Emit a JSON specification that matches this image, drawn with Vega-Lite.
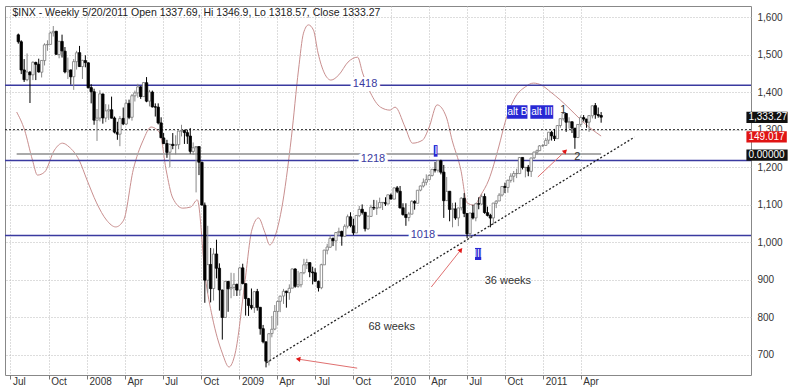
{
  "$schema": "https://vega.github.io/schema/vega-lite/v6.json",
  "width": 746,
  "height": 369,
  "autosize": "none",
  "padding": {"left": 5, "top": 6, "right": 49, "bottom": 15},
  "background": "white",
  "config": {"view": {"stroke": "#888", "strokeWidth": 1}, "font": "Liberation Sans"},
  "resolve": {"axis": {"x": "independent", "y": "independent"}},
  "datasets": {
    "ohlc": [
      {"d":"2007-07-20","o":1552.5,"h":1555.9,"l":1529,"c":1534.1},
      {"d":"2007-07-27","o":1534,"h":1538,"l":1448,"c":1458.9},
      {"d":"2007-08-03","o":1459,"h":1488,"l":1427,"c":1433.1},
      {"d":"2007-08-10","o":1433,"h":1503,"l":1429,"c":1453.6},
      {"d":"2007-08-17","o":1453,"h":1456,"l":1371,"c":1445.9},
      {"d":"2007-08-24","o":1446,"h":1482,"l":1432,"c":1479.4},
      {"d":"2007-08-31","o":1479,"h":1481,"l":1432,"c":1474},
      {"d":"2007-09-07","o":1474,"h":1489,"l":1452,"c":1453.6},
      {"d":"2007-09-14","o":1453,"h":1485,"l":1439,"c":1484.3},
      {"d":"2007-09-21","o":1484,"h":1530,"l":1471,"c":1525.8},
      {"d":"2007-09-28","o":1526,"h":1538,"l":1510,"c":1526.8},
      {"d":"2007-10-05","o":1527,"h":1561,"l":1527,"c":1557.6},
      {"d":"2007-10-12","o":1558,"h":1576,"l":1548,"c":1561.8},
      {"d":"2007-10-19","o":1562,"h":1563,"l":1500,"c":1500.6},
      {"d":"2007-10-26","o":1500,"h":1535,"l":1490,"c":1535.3},
      {"d":"2007-11-02","o":1535,"h":1553,"l":1492,"c":1509.7},
      {"d":"2007-11-09","o":1509,"h":1520,"l":1450,"c":1453.7},
      {"d":"2007-11-16","o":1454,"h":1492,"l":1435,"c":1458.7},
      {"d":"2007-11-23","o":1459,"h":1460,"l":1420,"c":1440.7},
      {"d":"2007-11-30","o":1441,"h":1488,"l":1406,"c":1481.1},
      {"d":"2007-12-07","o":1481,"h":1510,"l":1460,"c":1504.7},
      {"d":"2007-12-14","o":1505,"h":1523,"l":1467,"c":1468},
      {"d":"2007-12-21","o":1468,"h":1486,"l":1435,"c":1484.5},
      {"d":"2007-12-28","o":1484,"h":1498,"l":1466,"c":1478.5},
      {"d":"2008-01-04","o":1478,"h":1479,"l":1410,"c":1411.6},
      {"d":"2008-01-11","o":1412,"h":1421,"l":1370,"c":1401},
      {"d":"2008-01-18","o":1401,"h":1409,"l":1313,"c":1325.2},
      {"d":"2008-01-25","o":1325,"h":1355,"l":1270,"c":1330.6},
      {"d":"2008-02-01","o":1331,"h":1405,"l":1322,"c":1395.4},
      {"d":"2008-02-08","o":1395,"h":1396,"l":1316,"c":1331.3},
      {"d":"2008-02-15","o":1331,"h":1368,"l":1320,"c":1350},
      {"d":"2008-02-22","o":1350,"h":1367,"l":1326,"c":1353.1},
      {"d":"2008-02-29","o":1353,"h":1388,"l":1330,"c":1330.6},
      {"d":"2008-03-07","o":1331,"h":1335,"l":1290,"c":1293.4},
      {"d":"2008-03-14","o":1293,"h":1321,"l":1273,"c":1288.1},
      {"d":"2008-03-20","o":1288,"h":1336,"l":1256,"c":1329.5},
      {"d":"2008-03-28","o":1330,"h":1359,"l":1312,"c":1315.2},
      {"d":"2008-04-04","o":1315,"h":1380,"l":1312,"c":1370.4},
      {"d":"2008-04-11","o":1370,"h":1380,"l":1328,"c":1332.8},
      {"d":"2008-04-18","o":1333,"h":1395,"l":1324,"c":1390.3},
      {"d":"2008-04-25","o":1390,"h":1404,"l":1375,"c":1397.8},
      {"d":"2008-05-02","o":1398,"h":1422,"l":1385,"c":1413.9},
      {"d":"2008-05-09","o":1414,"h":1416,"l":1382,"c":1388.3},
      {"d":"2008-05-16","o":1388,"h":1426,"l":1388,"c":1425.4},
      {"d":"2008-05-23","o":1425,"h":1440,"l":1373,"c":1375.9},
      {"d":"2008-05-30","o":1376,"h":1406,"l":1362,"c":1400.4},
      {"d":"2008-06-06","o":1400,"h":1404,"l":1359,"c":1360.7},
      {"d":"2008-06-13","o":1361,"h":1370,"l":1335,"c":1360},
      {"d":"2008-06-20","o":1360,"h":1370,"l":1314,"c":1317.9},
      {"d":"2008-06-27","o":1318,"h":1333,"l":1278,"c":1278.4},
      {"d":"2008-07-03","o":1278,"h":1291,"l":1262,"c":1262.9},
      {"d":"2008-07-11","o":1263,"h":1273,"l":1225,"c":1239.5},
      {"d":"2008-07-18","o":1240,"h":1263,"l":1200,"c":1260.7},
      {"d":"2008-07-25","o":1261,"h":1291,"l":1248,"c":1257.8},
      {"d":"2008-08-01","o":1258,"h":1285,"l":1234,"c":1260.3},
      {"d":"2008-08-08","o":1260,"h":1297,"l":1248,"c":1296.3},
      {"d":"2008-08-15","o":1296,"h":1313,"l":1282,"c":1298.2},
      {"d":"2008-08-22","o":1298,"h":1300,"l":1262,"c":1292.2},
      {"d":"2008-08-29","o":1292,"h":1300,"l":1262,"c":1282.8},
      {"d":"2008-09-05","o":1283,"h":1304,"l":1236,"c":1242.3},
      {"d":"2008-09-12","o":1242,"h":1266,"l":1233,"c":1251.7},
      {"d":"2008-09-19","o":1252,"h":1256,"l":1133,"c":1255.1},
      {"d":"2008-09-26","o":1255,"h":1255,"l":1179,"c":1213.3},
      {"d":"2008-10-03","o":1213,"h":1215,"l":1099,"c":1099.2},
      {"d":"2008-10-10","o":1099,"h":1106,"l":839,"c":899.2},
      {"d":"2008-10-17","o":899,"h":1044,"l":866,"c":940.6},
      {"d":"2008-10-24","o":941,"h":985,"l":840,"c":876.8},
      {"d":"2008-10-31","o":877,"h":984,"l":845,"c":968.8},
      {"d":"2008-11-07","o":969,"h":1007,"l":904,"c":931},
      {"d":"2008-11-14","o":931,"h":944,"l":818,"c":873.3},
      {"d":"2008-11-21","o":873,"h":874,"l":741,"c":800},
      {"d":"2008-11-28","o":800,"h":897,"l":799,"c":896.2},
      {"d":"2008-12-05","o":896,"h":897,"l":815,"c":876.1},
      {"d":"2008-12-12","o":876,"h":919,"l":851,"c":879.7},
      {"d":"2008-12-19","o":880,"h":918,"l":857,"c":887.9},
      {"d":"2008-12-26","o":888,"h":890,"l":857,"c":872.8},
      {"d":"2009-01-02","o":873,"h":935,"l":858,"c":931.8},
      {"d":"2009-01-09","o":932,"h":943,"l":888,"c":890.4},
      {"d":"2009-01-16","o":890,"h":890,"l":805,"c":850.1},
      {"d":"2009-01-23","o":850,"h":852,"l":804,"c":832},
      {"d":"2009-01-30","o":832,"h":877,"l":821,"c":825.9},
      {"d":"2009-02-06","o":826,"h":870,"l":812,"c":868.6},
      {"d":"2009-02-13","o":869,"h":876,"l":818,"c":826.8},
      {"d":"2009-02-20","o":827,"h":827,"l":754,"c":770.1},
      {"d":"2009-02-27","o":770,"h":780,"l":731,"c":735.1},
      {"d":"2009-03-06","o":735,"h":736,"l":667,"c":683.4},
      {"d":"2009-03-13","o":683,"h":758,"l":672,"c":756.6},
      {"d":"2009-03-20","o":757,"h":804,"l":747,"c":768.5},
      {"d":"2009-03-27","o":769,"h":833,"l":766,"c":815.9},
      {"d":"2009-04-03","o":816,"h":845,"l":779,"c":842.5},
      {"d":"2009-04-09","o":843,"h":858,"l":814,"c":856.6},
      {"d":"2009-04-17","o":857,"h":876,"l":836,"c":869.6},
      {"d":"2009-04-24","o":870,"h":871,"l":826,"c":866.2},
      {"d":"2009-05-01","o":866,"h":888,"l":847,"c":877.5},
      {"d":"2009-05-08","o":878,"h":930,"l":878,"c":929.2},
      {"d":"2009-05-15","o":929,"h":931,"l":879,"c":882.9},
      {"d":"2009-05-22","o":883,"h":924,"l":879,"c":887},
      {"d":"2009-05-29","o":887,"h":920,"l":880,"c":919.1},
      {"d":"2009-06-05","o":919,"h":956,"l":915,"c":940.1},
      {"d":"2009-06-12","o":940,"h":956,"l":929,"c":946.2},
      {"d":"2009-06-19","o":946,"h":946,"l":907,"c":921.2},
      {"d":"2009-06-26","o":921,"h":935,"l":888,"c":918.9},
      {"d":"2009-07-02","o":919,"h":931,"l":896,"c":896.4},
      {"d":"2009-07-10","o":896,"h":898,"l":869,"c":879.1},
      {"d":"2009-07-17","o":879,"h":943,"l":875,"c":940.4},
      {"d":"2009-07-24","o":940,"h":980,"l":940,"c":979.3},
      {"d":"2009-07-31","o":979,"h":996,"l":968,"c":987.5},
      {"d":"2009-08-07","o":987,"h":1018,"l":985,"c":1010.5},
      {"d":"2009-08-14","o":1010,"h":1013,"l":990,"c":1004.1},
      {"d":"2009-08-21","o":1004,"h":1027,"l":978,"c":1026.1},
      {"d":"2009-08-28","o":1026,"h":1039,"l":1016,"c":1028.9},
      {"d":"2009-09-04","o":1029,"h":1031,"l":991,"c":1016.4},
      {"d":"2009-09-11","o":1016,"h":1048,"l":1016,"c":1042.7},
      {"d":"2009-09-18","o":1043,"h":1074,"l":1037,"c":1068.3},
      {"d":"2009-09-25","o":1068,"h":1080,"l":1040,"c":1044.4},
      {"d":"2009-10-02","o":1044,"h":1063,"l":1019,"c":1025.2},
      {"d":"2009-10-09","o":1025,"h":1073,"l":1025,"c":1071.5},
      {"d":"2009-10-16","o":1071,"h":1097,"l":1067,"c":1087.7},
      {"d":"2009-10-23","o":1088,"h":1101,"l":1074,"c":1079.6},
      {"d":"2009-10-30","o":1080,"h":1080,"l":1029,"c":1036.2},
      {"d":"2009-11-06","o":1036,"h":1072,"l":1033,"c":1069.3},
      {"d":"2009-11-13","o":1069,"h":1100,"l":1069,"c":1093.5},
      {"d":"2009-11-20","o":1093,"h":1113,"l":1086,"c":1091.4},
      {"d":"2009-11-27","o":1091,"h":1112,"l":1073,"c":1091.5},
      {"d":"2009-12-04","o":1092,"h":1119,"l":1092,"c":1106},
      {"d":"2009-12-11","o":1106,"h":1107,"l":1086,"c":1106.4},
      {"d":"2009-12-18","o":1106,"h":1120,"l":1097,"c":1102.5},
      {"d":"2009-12-24","o":1102,"h":1127,"l":1102,"c":1126.5},
      {"d":"2009-12-31","o":1126,"h":1130,"l":1115,"c":1115.1},
      {"d":"2010-01-08","o":1115,"h":1146,"l":1115,"c":1145},
      {"d":"2010-01-15","o":1145,"h":1150,"l":1131,"c":1136},
      {"d":"2010-01-22","o":1136,"h":1150,"l":1090,"c":1091.8},
      {"d":"2010-01-29","o":1092,"h":1104,"l":1071,"c":1073.9},
      {"d":"2010-02-05","o":1074,"h":1104,"l":1044,"c":1066.2},
      {"d":"2010-02-12","o":1066,"h":1081,"l":1056,"c":1075.5},
      {"d":"2010-02-19","o":1075,"h":1112,"l":1075,"c":1109.2},
      {"d":"2010-02-26","o":1109,"h":1112,"l":1087,"c":1104.5},
      {"d":"2010-03-05","o":1104,"h":1139,"l":1104,"c":1138.7},
      {"d":"2010-03-12","o":1139,"h":1151,"l":1136,"c":1150},
      {"d":"2010-03-19","o":1150,"h":1170,"l":1146,"c":1159.9},
      {"d":"2010-03-26","o":1160,"h":1181,"l":1152,"c":1166.6},
      {"d":"2010-04-02","o":1167,"h":1181,"l":1167,"c":1178.1},
      {"d":"2010-04-09","o":1178,"h":1194,"l":1175,"c":1194.4},
      {"d":"2010-04-16","o":1194,"h":1214,"l":1186,"c":1192.1},
      {"d":"2010-04-23","o":1192,"h":1218,"l":1186,"c":1217.3},
      {"d":"2010-04-30","o":1217,"h":1220,"l":1181,"c":1186.7},
      {"d":"2010-05-07","o":1187,"h":1206,"l":1065,"c":1110.9},
      {"d":"2010-05-14","o":1111,"h":1174,"l":1111,"c":1135.7},
      {"d":"2010-05-21","o":1136,"h":1136,"l":1056,"c":1087.7},
      {"d":"2010-05-28","o":1088,"h":1105,"l":1040,"c":1089.4},
      {"d":"2010-06-04","o":1089,"h":1106,"l":1060,"c":1064.9},
      {"d":"2010-06-11","o":1065,"h":1092,"l":1043,"c":1091.6},
      {"d":"2010-06-18","o":1092,"h":1120,"l":1085,"c":1117.5},
      {"d":"2010-06-25","o":1117,"h":1131,"l":1067,"c":1076.8},
      {"d":"2010-07-02","o":1077,"h":1077,"l":1011,"c":1022.6},
      {"d":"2010-07-09","o":1023,"h":1079,"l":1011,"c":1078},
      {"d":"2010-07-16","o":1078,"h":1100,"l":1061,"c":1064.9},
      {"d":"2010-07-23","o":1065,"h":1105,"l":1056,"c":1102.7},
      {"d":"2010-07-30","o":1103,"h":1120,"l":1088,"c":1101.6},
      {"d":"2010-08-06","o":1102,"h":1128,"l":1100,"c":1121.6},
      {"d":"2010-08-13","o":1122,"h":1130,"l":1076,"c":1079.3},
      {"d":"2010-08-20","o":1079,"h":1095,"l":1069,"c":1071.7},
      {"d":"2010-08-27","o":1072,"h":1076,"l":1040,"c":1064.6},
      {"d":"2010-09-03","o":1065,"h":1105,"l":1047,"c":1104.5},
      {"d":"2010-09-10","o":1104,"h":1112,"l":1091,"c":1109.6},
      {"d":"2010-09-17","o":1110,"h":1131,"l":1110,"c":1125.6},
      {"d":"2010-09-24","o":1126,"h":1149,"l":1122,"c":1148.7},
      {"d":"2010-10-01","o":1149,"h":1159,"l":1131,"c":1146.2},
      {"d":"2010-10-08","o":1146,"h":1167,"l":1132,"c":1165.2},
      {"d":"2010-10-15","o":1165,"h":1184,"l":1159,"c":1176.2},
      {"d":"2010-10-22","o":1176,"h":1190,"l":1160,"c":1183.1},
      {"d":"2010-10-29","o":1183,"h":1196,"l":1171,"c":1183.3},
      {"d":"2010-11-05","o":1183,"h":1227,"l":1183,"c":1225.9},
      {"d":"2010-11-12","o":1226,"h":1226,"l":1194,"c":1199.2},
      {"d":"2010-11-19","o":1199,"h":1200,"l":1173,"c":1199.7},
      {"d":"2010-11-26","o":1200,"h":1206,"l":1176,"c":1189.4},
      {"d":"2010-12-03","o":1189,"h":1225,"l":1174,"c":1224.7},
      {"d":"2010-12-10","o":1225,"h":1241,"l":1222,"c":1240.4},
      {"d":"2010-12-17","o":1240,"h":1247,"l":1234,"c":1243.9},
      {"d":"2010-12-23","o":1244,"h":1259,"l":1243,"c":1256.8},
      {"d":"2010-12-31","o":1257,"h":1262,"l":1254,"c":1257.6},
      {"d":"2011-01-07","o":1258,"h":1278,"l":1257,"c":1271.5},
      {"d":"2011-01-14","o":1272,"h":1294,"l":1262,"c":1293.2},
      {"d":"2011-01-21","o":1293,"h":1297,"l":1271,"c":1283.4},
      {"d":"2011-01-28","o":1283,"h":1302,"l":1270,"c":1276.3},
      {"d":"2011-02-04","o":1276,"h":1312,"l":1276,"c":1310.9},
      {"d":"2011-02-11","o":1311,"h":1330,"l":1305,"c":1329.2},
      {"d":"2011-02-18","o":1329,"h":1344,"l":1324,"c":1343},
      {"d":"2011-02-25","o":1343,"h":1344,"l":1294,"c":1319.9},
      {"d":"2011-03-04","o":1320,"h":1333,"l":1303,"c":1321.2},
      {"d":"2011-03-11","o":1321,"h":1322,"l":1291,"c":1304.3},
      {"d":"2011-03-18","o":1304,"h":1304,"l":1249,"c":1279.2},
      {"d":"2011-03-25","o":1279,"h":1314,"l":1279,"c":1313.8},
      {"d":"2011-04-01","o":1314,"h":1338,"l":1308,"c":1332.4},
      {"d":"2011-04-08","o":1332,"h":1339,"l":1322,"c":1328.2},
      {"d":"2011-04-15","o":1328,"h":1329,"l":1305,"c":1319.7},
      {"d":"2011-04-21","o":1320,"h":1339,"l":1294,"c":1337.4},
      {"d":"2011-04-29","o":1337,"h":1364,"l":1330,"c":1363.6},
      {"d":"2011-05-06","o":1364,"h":1371,"l":1329,"c":1340.2},
      {"d":"2011-05-13","o":1340,"h":1359,"l":1332,"c":1337.8},
      {"d":"2011-05-20","o":1337.69,"h":1346.9,"l":1318.57,"c":1333.27}
    ],
    "osc": [
      {"d":"2007-07-16","v":1347},{"d":"2007-08-04","v":1299},{"d":"2007-08-23","v":1219},{"d":"2007-09-04","v":1179},
      {"d":"2007-09-21","v":1187},{"d":"2007-10-15","v":1246},{"d":"2007-11-03","v":1264},{"d":"2007-11-19","v":1254},
      {"d":"2007-12-13","v":1219},{"d":"2008-01-01","v":1166},{"d":"2008-01-24","v":1105},{"d":"2008-02-17","v":1059},
      {"d":"2008-03-10","v":1041},{"d":"2008-03-29","v":1059},{"d":"2008-04-21","v":1193},{"d":"2008-05-15","v":1272},
      {"d":"2008-06-03","v":1307},{"d":"2008-06-24","v":1291},{"d":"2008-07-09","v":1193},{"d":"2008-07-25","v":1118},
      {"d":"2008-08-18","v":1091},{"d":"2008-09-06","v":1094},{"d":"2008-09-22","v":1113},{"d":"2008-10-11","v":908},
      {"d":"2008-10-28","v":801},{"d":"2008-11-21","v":705},{"d":"2008-12-07","v":668},{"d":"2008-12-22","v":705},
      {"d":"2009-01-14","v":892},{"d":"2009-01-31","v":1033},{"d":"2009-02-16","v":1065},{"d":"2009-03-03","v":1027},
      {"d":"2009-03-15","v":993},{"d":"2009-03-27","v":1014},{"d":"2009-04-12","v":1086},{"d":"2009-05-06","v":1280},
      {"d":"2009-05-23","v":1459},{"d":"2009-06-04","v":1557},{"d":"2009-06-16","v":1579},{"d":"2009-06-28","v":1565},
      {"d":"2009-07-09","v":1504},{"d":"2009-07-24","v":1451},{"d":"2009-08-09","v":1432},{"d":"2009-08-28","v":1446},
      {"d":"2009-09-19","v":1480},{"d":"2009-10-12","v":1493},{"d":"2009-10-24","v":1451},{"d":"2009-11-12","v":1398},
      {"d":"2009-12-06","v":1360},{"d":"2009-12-29","v":1352},{"d":"2010-01-10","v":1360},{"d":"2010-02-03","v":1307},
      {"d":"2010-02-21","v":1264},{"d":"2010-03-17","v":1272},{"d":"2010-04-02","v":1307},{"d":"2010-04-21","v":1366},
      {"d":"2010-05-13","v":1334},{"d":"2010-05-27","v":1272},{"d":"2010-06-17","v":1193},{"d":"2010-07-02","v":1105},
      {"d":"2010-07-19","v":1099},{"d":"2010-08-04","v":1126},{"d":"2010-08-23","v":1166},{"d":"2010-09-16","v":1254},
      {"d":"2010-10-03","v":1326},{"d":"2010-10-26","v":1387},{"d":"2010-11-19","v":1414},{"d":"2010-12-08","v":1424},
      {"d":"2010-12-27","v":1419},{"d":"2011-01-19","v":1400},{"d":"2011-02-11","v":1379},{"d":"2011-03-16","v":1344},
      {"d":"2011-04-09","v":1318},{"d":"2011-05-20","v":1283}
    ],
    "levels": [
      {"d":"2009-10-30","v":1418,"t":"1418"},
      {"d":"2009-11-18","v":1218,"t":"1218"},
      {"d":"2010-03-18","v":1018,"t":"1018"}
    ],
    "boxes": [
      {"d1":"2010-10-06","d2":"2010-11-24","v1":1329,"v2":1365,"k":"tag"},
      {"d1":"2010-12-01","d2":"2011-01-25","v1":1329,"v2":1365,"k":"tag"},
      {"d1":"2010-04-13","d2":"2010-04-22","v1":1228,"v2":1259,"k":"tag"},
      {"d1":"2010-07-21","d2":"2010-08-05","v1":953,"v2":985,"k":"tag"},
      {"d1":"2012-05-03","d2":"2012-08-10","v1":1318,"v2":1348,"k":"price"},
      {"d1":"2012-05-03","d2":"2012-08-08","v1":1266,"v2":1296,"k":"osc"},
      {"d1":"2012-05-03","d2":"2012-08-10","v1":1217,"v2":1247,"k":"price"}
    ],
    "tagtext": [
      {"d":"2010-10-31","v":1347,"t":"alt B"},
      {"d":"2010-12-29","v":1347,"t":"alt III"},
      {"d":"2010-04-18","v":1243,"t":"I"},
      {"d":"2010-07-29","v":969,"t":"III"}
    ],
    "axistext": [
      {"d":"2012-05-03","v":1333,"t":"1,333.27"},
      {"d":"2012-05-03","v":1281,"t":"149.017"},
      {"d":"2012-05-03","v":1232,"t":"0.00000"}
    ],
    "notes": [
      {"d":"2011-02-18","v":1352,"t":"1"},
      {"d":"2011-03-24","v":1227,"t":"2"},
      {"d":"2010-01-02","v":775,"t":"68 weeks"},
      {"d":"2010-10-08","v":897,"t":"36 weeks"}
    ],
    "title": [
      {"d":"2007-07-01","v":1629,"t":"$INX - Weekly 5/20/2011 Open 1337.69, Hi 1346.9, Lo 1318.57, Close 1333.27"}
    ],
    "arrows": [
      {"d1":"2009-10-11","v1":665,"d2":"2009-05-22","v2":689,"ang":278},
      {"d1":"2010-04-07","v1":881,"d2":"2010-06-17","v2":980,"ang":39},
      {"d1":"2010-12-19","v1":1174,"d2":"2011-02-23","v2":1243,"ang":47}
    ],
    "trend": [
      {"d":"2009-03-06","v":679},
      {"d":"2011-08-08","v":1280}
    ]
  },
  "layer": [
    {
      "data": {"name": "osc"},
      "mark": {"type": "line", "color": "#c98f8f", "strokeWidth": 1, "interpolate": "monotone"},
      "encoding": {
        "x": {"field": "d", "type": "temporal",
          "scale": {"type": "utc", "domain": [{"year":2007,"month":6,"date":30,"utc":true},{"year":2012,"month":5,"date":2,"utc":true}]},
          "axis": {"title": null, "orient": "bottom",
            "values": [
              {"year":2007,"month":7,"date":1,"utc":true},{"year":2007,"month":10,"date":1,"utc":true},
              {"year":2008,"month":1,"date":1,"utc":true},{"year":2008,"month":4,"date":1,"utc":true},
              {"year":2008,"month":7,"date":1,"utc":true},{"year":2008,"month":10,"date":1,"utc":true},
              {"year":2009,"month":1,"date":1,"utc":true},{"year":2009,"month":4,"date":1,"utc":true},
              {"year":2009,"month":7,"date":1,"utc":true},{"year":2009,"month":10,"date":1,"utc":true},
              {"year":2010,"month":1,"date":1,"utc":true},{"year":2010,"month":4,"date":1,"utc":true},
              {"year":2010,"month":7,"date":1,"utc":true},{"year":2010,"month":10,"date":1,"utc":true},
              {"year":2011,"month":1,"date":1,"utc":true},{"year":2011,"month":4,"date":1,"utc":true}
            ],
            "labelExpr": "utcmonth(datum.value) == 0 ? utcFormat(datum.value, '%Y') : utcFormat(datum.value, '%b')",
            "labelAlign": "left", "labelOffset": 2, "labelBaseline": "top", "labelPadding": -3, "tickSize": 4,
            "tickColor": "#777", "grid": true, "gridDash": [1, 2], "gridColor": "#bbb", "domain": false,
            "labelFont": "Liberation Sans", "labelFontSize": 10, "labelColor": "#333", "labelOverlap": false, "labelFlush": false}},
        "y": {"field": "v", "type": "quantitative",
          "scale": {"domain": [646.7, 1629.3], "nice": false, "zero": false},
          "axis": {"title": null, "orient": "right", "values": [700,800,900,1000,1100,1200,1300,1400,1500,1600],
            "labelExpr": "format(datum.value, ',')", "grid": true, "gridDash": [1, 2], "gridColor": "#bbb", "domain": false, "ticks": false,
            "labelPadding": 6, "labelFont": "Liberation Sans", "labelFontSize": 10, "labelColor": "#333"}}
      }
    },
    {
      "data": {"values": [{"v": 1300}]},
      "mark": {"type": "rule", "color": "#222", "strokeDash": [2, 2], "strokeWidth": 1},
      "encoding": {"y": {"field": "v", "type": "quantitative", "axis": null}}
    },
    {
      "data": {"values": [{"d1": "2007-07-16", "d2": "2011-05-20", "v": 1235}]},
      "mark": {"type": "rule", "color": "#aaa", "strokeWidth": 2},
      "encoding": {
        "x": {"field": "d1", "type": "temporal", "axis": null},
        "x2": {"field": "d2"},
        "y": {"field": "v", "type": "quantitative", "axis": null}
      }
    },
    {
      "data": {"name": "levels"},
      "mark": {"type": "rule", "color": "#3a3aa0", "strokeWidth": 1.5},
      "encoding": {"y": {"field": "v", "type": "quantitative", "axis": null}}
    },
    {
      "data": {"name": "ohlc"},
      "layer": [
        {
          "mark": {"type": "rule", "strokeWidth": 1},
          "encoding": {
            "x": {"field": "d", "type": "temporal", "axis": null},
            "y": {"field": "l", "type": "quantitative", "axis": null},
            "y2": {"field": "h"},
            "color": {"condition": {"test": "datum.c < datum.o", "value": "#000"}, "value": "#888"}
          }
        },
        {
          "mark": {"type": "bar", "size": 2.4, "strokeWidth": 0.8},
          "encoding": {
            "x": {"field": "d", "type": "temporal", "axis": null},
            "y": {"field": "o", "type": "quantitative", "axis": null},
            "y2": {"field": "c"},
            "fill": {"condition": {"test": "datum.c < datum.o", "value": "#000"}, "value": "#fff"},
            "stroke": {"condition": {"test": "datum.c < datum.o", "value": "#000"}, "value": "#777"}
          }
        }
      ]
    },
    {
      "data": {"name": "trend"},
      "mark": {"type": "line", "color": "#222", "strokeDash": [2, 2], "strokeWidth": 1.3},
      "encoding": {
        "x": {"field": "d", "type": "temporal", "axis": null},
        "y": {"field": "v", "type": "quantitative", "axis": null}
      }
    },
    {
      "data": {"name": "levels"},
      "mark": {"type": "text", "font": "Liberation Sans", "fontSize": 11, "stroke": "white", "strokeWidth": 6, "fill": "white"},
      "encoding": {
        "x": {"field": "d", "type": "temporal", "axis": null},
        "y": {"field": "v", "type": "quantitative", "axis": null},
        "text": {"field": "t"}
      }
    },
    {
      "data": {"name": "levels"},
      "mark": {"type": "text", "font": "Liberation Sans", "fontSize": 11, "color": "#3a3aa0", "dy": -1},
      "encoding": {
        "x": {"field": "d", "type": "temporal", "axis": null},
        "y": {"field": "v", "type": "quantitative", "axis": null},
        "text": {"field": "t"}
      }
    },
    {
      "data": {"name": "arrows"},
      "mark": {"type": "rule", "color": "#e07070", "strokeWidth": 1, "clip": false},
      "encoding": {
        "x": {"field": "d1", "type": "temporal", "axis": null},
        "x2": {"field": "d2"},
        "y": {"field": "v1", "type": "quantitative", "axis": null},
        "y2": {"field": "v2"}
      }
    },
    {
      "data": {"name": "arrows"},
      "mark": {"type": "point", "shape": "triangle-up", "filled": true, "color": "#e01818", "size": 28, "opacity": 1},
      "encoding": {
        "x": {"field": "d2", "type": "temporal", "axis": null},
        "y": {"field": "v2", "type": "quantitative", "axis": null},
        "angle": {"field": "ang", "type": "quantitative", "scale": null}
      }
    },
    {
      "data": {"name": "boxes"},
      "mark": {"type": "rect", "clip": false},
      "encoding": {
        "x": {"field": "d1", "type": "temporal", "axis": null},
        "x2": {"field": "d2"},
        "y": {"field": "v1", "type": "quantitative", "axis": null},
        "y2": {"field": "v2"},
        "color": {"field": "k", "type": "nominal", "legend": null,
          "scale": {"domain": ["tag", "price", "osc"], "range": ["#2828d4", "#111111", "#e01414"]}}
      }
    },
    {
      "data": {"name": "tagtext"},
      "mark": {"type": "text", "font": "Liberation Sans", "fontSize": 10, "color": "white"},
      "encoding": {
        "x": {"field": "d", "type": "temporal", "axis": null},
        "y": {"field": "v", "type": "quantitative", "axis": null},
        "text": {"field": "t"}
      }
    },
    {
      "data": {"name": "axistext"},
      "mark": {"type": "text", "font": "Liberation Sans", "fontSize": 10, "color": "white", "align": "left", "dx": 2, "clip": false},
      "encoding": {
        "x": {"field": "d", "type": "temporal", "axis": null},
        "y": {"field": "v", "type": "quantitative", "axis": null},
        "text": {"field": "t"}
      }
    },
    {
      "data": {"name": "notes"},
      "mark": {"type": "text", "font": "Liberation Sans", "fontSize": 11, "color": "#333"},
      "encoding": {
        "x": {"field": "d", "type": "temporal", "axis": null},
        "y": {"field": "v", "type": "quantitative", "axis": null},
        "text": {"field": "t"}
      }
    },
    {
      "data": {"name": "title"},
      "mark": {"type": "text", "font": "Liberation Sans", "fontSize": 10.5, "color": "#222", "align": "left", "baseline": "top", "dx": 2, "dy": 2},
      "encoding": {
        "x": {"field": "d", "type": "temporal", "axis": null},
        "y": {"field": "v", "type": "quantitative", "axis": null},
        "text": {"field": "t"}
      }
    }
  ]
}
